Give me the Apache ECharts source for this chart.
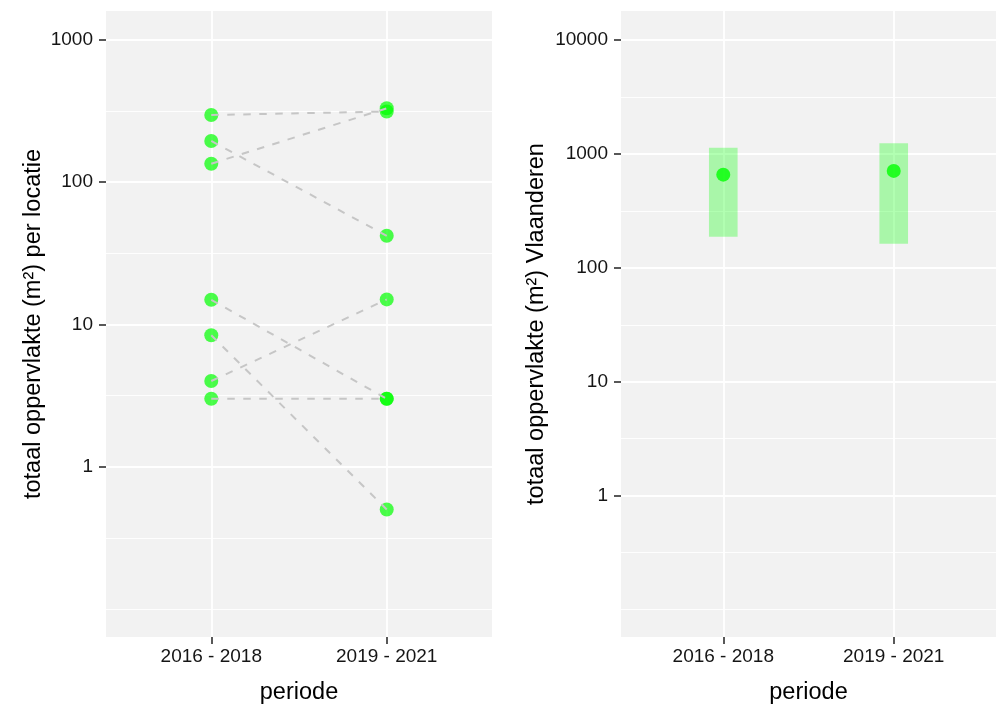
<!DOCTYPE html>
<html><head><meta charset="utf-8">
<script src="https://cdn.jsdelivr.net/npm/echarts@6/dist/echarts.min.js"></script>
<style>html,body{margin:0;padding:0;background:#fff}#c{width:1008px;height:720px}</style>
</head><body><div id="c"></div>
<script>
// categories
const periods = ['2016 - 2018', '2019 - 2021'];
// left panel: per location, paired values (first period -> second period)
const locFirst  = [297, 195, 135, 14.9, 8.4, 4.0, 3.0];
const locSecond = [314, 42, 331, 3.0, 0.5, 15, 3.0];
// right panel: Flanders total (estimate with interval)
const flMid  = [658, 710];
const flLow  = [188, 163];
const flHigh = [1136, 1242];
// tick labels / grid breaks
const leftTicks  = [1, 10, 100, 1000];
const leftMinor  = [0.1, 0.3162, 3.162, 31.62, 316.2];
const rightTicks = [1, 10, 100, 1000, 10000];
const rightMinor = [0.1, 0.3162, 3.162, 31.62, 316.2, 3162];

const FONT = 'Liberation Sans, Arial, sans-serif';
const chart = echarts.init(document.getElementById('c'), null, {renderer: 'canvas'});

function xAxisCfg(gi) {
  return {
    gridIndex: gi, type: 'value', min: -0.6, max: 1.6,
    axisLine: {show: false, onZero: false},
    axisTick: {show: true, customValues: [0, 1], length: 7, lineStyle: {color: '#222', width: 1.5}},
    axisLabel: {customValues: [0, 1], formatter: v => periods[Math.round(v)], color: '#151515',
      fontSize: 19, fontFamily: FONT, margin: 10},
    splitLine: {show: true, lineStyle: {color: '#ffffff', width: 1.8}},
    name: 'periode', nameLocation: 'middle', nameGap: 44,
    nameTextStyle: {fontSize: 23.5, fontFamily: FONT, color: '#000'}
  };
}
function yMajor(gi, min, max, ticks, title, gap) {
  return {
    gridIndex: gi, type: 'log', logBase: 10, min: min, max: max,
    axisLine: {show: false, onZero: false},
    axisTick: {show: true, customValues: ticks, length: 7, lineStyle: {color: '#222', width: 1.5}},
    axisLabel: {customValues: ticks, formatter: v => String(Math.round(v)), color: '#151515',
      fontSize: 19, fontFamily: FONT, margin: 13},
    splitLine: {show: true, lineStyle: {color: '#ffffff', width: 1.8}},
    name: title, nameLocation: 'middle', nameGap: gap,
    nameTextStyle: {fontSize: 23.5, fontFamily: FONT, color: '#000'}
  };
}
function yMinor(gi, min, max, ticks) {
  return {
    gridIndex: gi, type: 'log', logBase: 10, min: min, max: max,
    axisLine: {show: false, onZero: false},
    axisTick: {show: false, customValues: ticks},
    axisLabel: {show: false, customValues: ticks},
    splitLine: {show: true, lineStyle: {color: '#ffffff', width: 0.9}}
  };
}

const series = [];
// left points
const leftPts = [];
locFirst.forEach(v => leftPts.push([0, v]));
locSecond.forEach(v => leftPts.push([1, v]));
series.push({
  type: 'scatter', xAxisIndex: 0, yAxisIndex: 0, data: leftPts, symbolSize: 14, z: 2,
  itemStyle: {color: '#00ff00', opacity: 0.7}, silent: true
});
// left dashed connectors
locFirst.forEach((v, i) => {
  series.push({
    type: 'line', xAxisIndex: 0, yAxisIndex: 0, data: [[0, v], [1, locSecond[i]]],
    symbol: 'none', z: 3, silent: true,
    lineStyle: {color: '#c6c6c6', width: 2, type: [7.5, 8.5]}
  });
});
// right interval rects
series.push({
  type: 'custom', xAxisIndex: 1, yAxisIndex: 2, z: 2, silent: true,
  data: flMid.map((m, i) => [i, flLow[i], flHigh[i]]),
  renderItem: (params, api) => {
    const x = api.value(0), lo = api.value(1), hi = api.value(2);
    const pHi = api.coord([x, hi]);
    const pLo = api.coord([x, lo]);
    const xl = api.coord([x - 0.084, hi])[0];
    const xr = api.coord([x + 0.084, hi])[0];
    return {type: 'rect', shape: {x: xl, y: pHi[1], width: xr - xl, height: pLo[1] - pHi[1]},
      style: {fill: 'rgba(0,255,0,0.3)'}};
  }
});
// right points
series.push({
  type: 'scatter', xAxisIndex: 1, yAxisIndex: 2, data: flMid.map((m, i) => [i, m]),
  symbolSize: 14, z: 3, itemStyle: {color: '#00ff00'}, silent: true
});

chart.setOption({
  animation: false,
  backgroundColor: '#ffffff',
  grid: [
    {left: 106, top: 11, width: 386, height: 626, show: true, backgroundColor: '#f2f2f2', borderWidth: 0},
    {left: 621, top: 11, width: 375, height: 626, show: true, backgroundColor: '#f2f2f2', borderWidth: 0}
  ],
  xAxis: [xAxisCfg(0), xAxisCfg(1)],
  yAxis: [
    yMajor(0, 0.0634, 1600, leftTicks, 'totaal oppervlakte (m²) per locatie', 60),
    yMinor(0, 0.0634, 1600, leftMinor),
    yMajor(1, 0.0575, 17980, rightTicks, 'totaal oppervlakte (m²) Vlaanderen', 72),
    yMinor(1, 0.0575, 17980, rightMinor)
  ],
  series: series
});
</script></body></html>
